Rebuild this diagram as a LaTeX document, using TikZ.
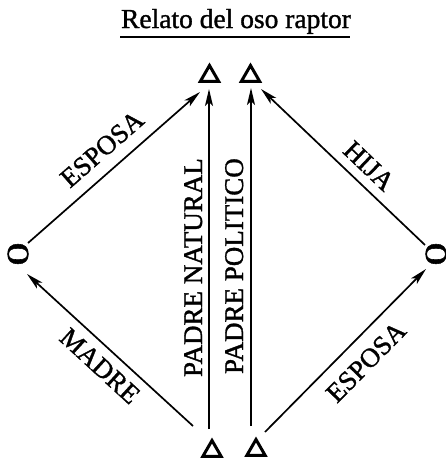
\documentclass[tikz,border=0pt]{standalone}
\usepackage{fontspec}
\setmainfont{Liberation Serif}
\newfontfamily\inkfont{Liberation Serif}[FakeBold=1.2]
\usetikzlibrary{arrows.meta,shapes.geometric}
\begin{document}
\begin{tikzpicture}[x=1pt,y=-1pt,
  lbl/.style={font=\inkfont\fontsize{27}{27}\selectfont, inner sep=0pt},
  tri/.style={draw, line width=3pt, regular polygon, regular polygon sides=3,
              minimum size=21pt, inner sep=0pt, line join=miter},
  fem/.style={rotate=90, font=\inkfont\fontsize{31}{31}\selectfont, inner sep=0pt},
  arr/.style={line width=1.7pt, -{Stealth[length=17pt,width=8pt,inset=4pt]}},
  ttl/.style={font=\inkfont\fontsize{27.5}{27.5}\selectfont, inner sep=0pt}]
\useasboundingbox (0,0) rectangle (445,458);
% title
\node[ttl, anchor=base] (title) at (236,28) {Relato del oso raptor};
\coordinate (ulA) at (120,37);
\coordinate (ulB) at (350,37);
\draw[line width=2pt] (ulA) -- (ulB);
% kin symbols
\node[tri] (t1) at (209.5,76) {};
\node[tri] (t2) at (250.5,76) {};
\node[tri] (b1) at (212,451) {};
\node[tri] (b2) at (256,450) {};
\node[fem] (f1) at (18,254) {\scalebox{1.5}[1]{0}};
\node[fem] (f2) at (436,254) {\scalebox{1.5}[1]{0}};
% connector end points
\coordinate (e1s) at (28,243);  \coordinate (e1e) at (200,92);
\coordinate (m1s) at (193,426); \coordinate (m1e) at (27,274);
\coordinate (v1s) at (209,429); \coordinate (v1e) at (209,89);
\coordinate (v2s) at (251,426); \coordinate (v2e) at (251,88);
\coordinate (e2s) at (265,432); \coordinate (e2e) at (426,269);
\coordinate (h1s) at (425,245); \coordinate (h1e) at (261,89);
% connectors
\draw[arr] (e1s) -- (e1e);
\draw[arr] (m1s) -- (m1e);
\draw[arr] (v1s) -- (v1e);
\draw[arr] (v2s) -- (v2e);
\draw[arr] (e2s) -- (e2e);
\draw[arr] (h1s) -- (h1e);
% labels
\node[lbl, rotate=41.3] (l1) at (102,149) {ESPOSA};
\node[lbl, rotate=-42.5] (l2) at (100,366) {MADRE};
\node[lbl, rotate=90, anchor=base east] (l3) at (202,158) {PADRE NATURAL};
\node[lbl, rotate=90, anchor=base east] (l4) at (243,158) {PADRE POLITICO};
\node[lbl, rotate=45.4] (l5) at (366,362) {ESPOSA};
\node[lbl, rotate=-43.6] (l6) at (369,166) {HIJA};
\end{tikzpicture}
\end{document}
